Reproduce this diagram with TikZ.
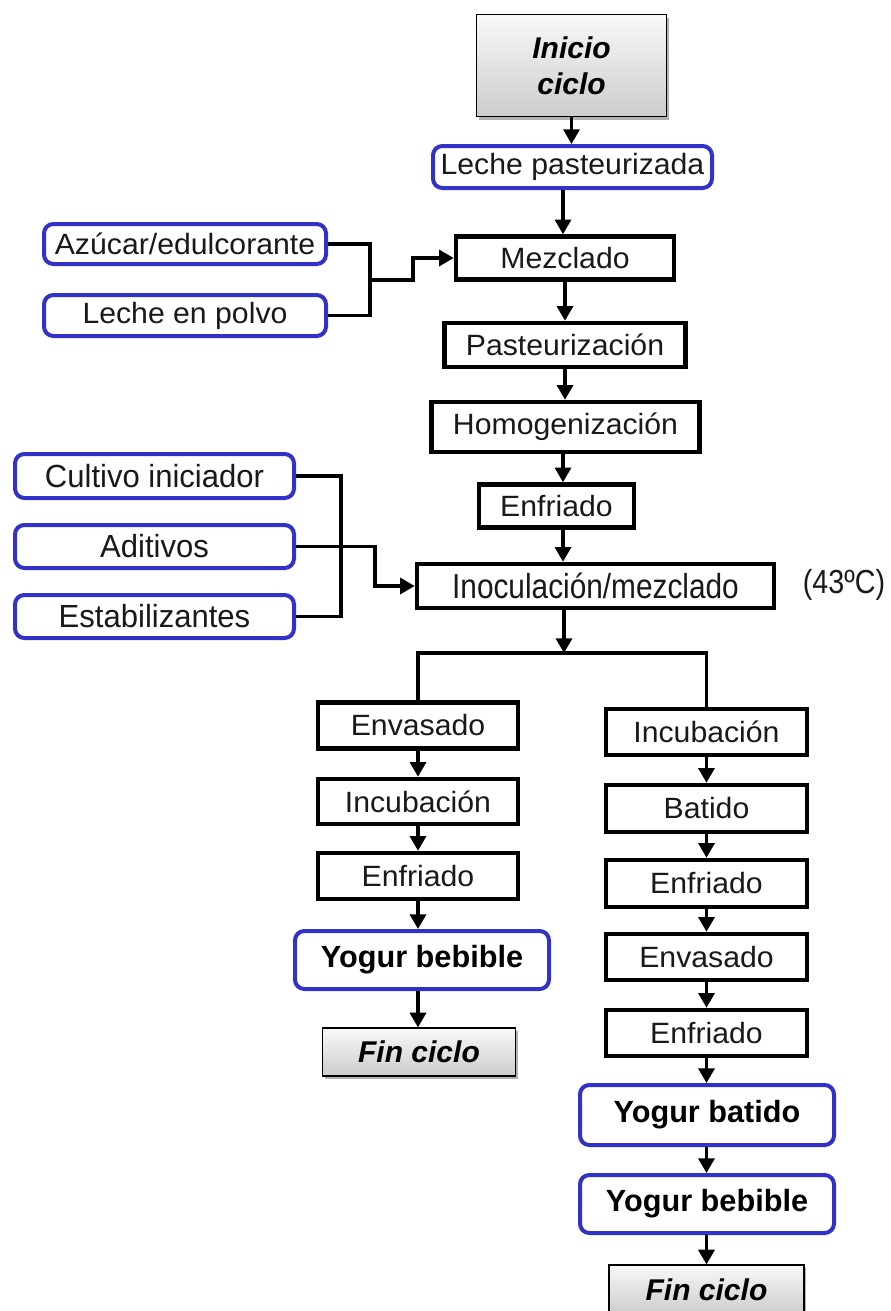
\documentclass[tikz,border=0pt]{standalone}
\usepackage{fontspec}
\setmainfont[FakeStretch=1.03]{Liberation Sans}
\newfontfamily\plainsans{Liberation Sans}
\newfontfamily\narrowsans[FakeStretch=0.97]{Liberation Sans}
\newfontfamily\tightsans[FakeStretch=0.86]{Liberation Sans}
\usetikzlibrary{arrows.meta,shadows}
\definecolor{frameblue}{RGB}{50,50,200}
\definecolor{inktext}{RGB}{25,25,25}

\tikzset{
  sz/.style 2 args={minimum width=#1*0.75pt, minimum height=#2*0.75pt},
  stepbox/.style={draw=black, line width=3.4pt, fill=white, inner sep=0pt,
    text=inktext, font=\fontsize{22}{26}\selectfont},
  inbox/.style={draw=frameblue, line width=3pt, rounded corners=7pt, fill=white,
    inner sep=0pt, text=inktext, font=\fontsize{22}{26}\selectfont},
  narrow/.style={font=\narrowsans\fontsize{24}{28}\selectfont},
  prodbox/.style={inbox, text=black, font=\plainsans\fontsize{23}{27}\selectfont\bfseries},
  termbox/.style={draw=black, line width=0.9pt, top color=gray!5, bottom color=gray!40,
    drop shadow={shadow xshift=1.5pt, shadow yshift=-2.5pt, opacity=0.3, fill=black},
    inner sep=0pt, align=center, text=black,
    font=\plainsans\fontsize{22.5}{27}\selectfont\bfseries\itshape},
  link/.style={line width=2.5pt, draw=black},
  arr/.style={link, -{Triangle[length=11pt,width=12pt]}},
}

\begin{document}
\begin{tikzpicture}[x=0.75pt, y=-0.75pt]
  \useasboundingbox (0,0) rectangle (891,1311);
  \fill[white] (0,0) rectangle (891,1311);
  \clip (0,0) rectangle (891,1311);

  % main line
  \node[termbox, sz={190}{102}] (ini) at (571.5,65.5) {Inicio\\ciclo};
  \node[inbox, sz={279}{42}] (lp) at (572.5,167) {Leche pasteurizada};
  \node[stepbox, sz={218}{43}] (mez) at (565,258) {Mezclado};
  \node[stepbox, sz={241}{44}] (pas) at (565,345) {Pasteurización};
  \node[stepbox, sz={268}{50}] (hom) at (565.5,427) {Homogenización};
  \node[stepbox, sz={155}{43}] (enf1) at (556.5,506) {Enfriado};
  \node[stepbox, font=\tightsans\fontsize{26}{30}\selectfont, sz={357}{44}] (ino) at (595.5,586) {Inoculación/mezclado};
  \node[text=inktext, inner sep=0pt, font=\tightsans\fontsize{25}{29}\selectfont] (temp) at (844,585) {(43ºC)};

  % ingredients entering the mixing step
  \node[inbox, sz={282}{40}] (az) at (185,244) {Azúcar/edulcorante};
  \node[inbox, sz={282}{41}] (lpo) at (185,315.5) {Leche en polvo};

  % ingredients entering the inoculation step
  \node[inbox, narrow, sz={279}{44}] (cul) at (154.5,476) {Cultivo iniciador};
  \node[inbox, narrow, sz={279}{43}] (adi) at (154.5,546.5) {Aditivos};
  \node[inbox, narrow, sz={279}{43}] (est) at (154.5,616.5) {Estabilizantes};

  % drinkable yogurt branch
  \node[stepbox, sz={200}{46}] (envL) at (418,725.5) {Envasado};
  \node[stepbox, sz={200}{45}] (incL) at (418,801.5) {Incubación};
  \node[stepbox, sz={200}{46}] (enfL) at (418,876) {Enfriado};
  \node[prodbox, sz={254}{58}] (ybL) at (422,960) {Yogur bebible};
  \node[termbox, sz={193}{48}] (finL) at (419,1052) {Fin ciclo};

  % stirred yogurt branch
  \node[stepbox, sz={201}{46}] (incR) at (706.5,732) {Incubación};
  \node[stepbox, sz={201}{47}] (batR) at (706.5,808.5) {Batido};
  \node[stepbox, sz={201}{47}] (enfR1) at (706.5,883.5) {Enfriado};
  \node[stepbox, sz={201}{46}] (envR) at (706.5,957) {Envasado};
  \node[stepbox, sz={201}{46}] (enfR2) at (706.5,1033) {Enfriado};
  \node[prodbox, sz={254}{60}] (ybatR) at (707,1115) {Yogur batido};
  \node[prodbox, sz={254}{58}] (ybebR) at (707,1204) {Yogur bebible};
  \node[termbox, sz={195}{49}] (finR) at (706.5,1289.5) {Fin ciclo};

  % helper points for the connectors
  \coordinate (col) at (563,0);
  \coordinate (lcol) at (418,0);
  \coordinate (rcol) at (706.5,0);
  \coordinate (j1) at (370,280);
  \coordinate (k1) at (413,280);
  \coordinate (j2) at (341,546.5);
  \coordinate (k2) at (375,546.5);
  \coordinate (br) at (564,653);

  % main line arrows
  \draw[arr] (ini.south) -- (ini.south |- lp.north);
  \draw[arr] (lp.south -| col) -- (mez.north -| col);
  \draw[arr] (mez.south) -- (mez.south |- pas.north);
  \draw[arr] (pas.south) -- (pas.south |- hom.north);
  \draw[arr] (hom.south -| col) -- (enf1.north -| col);
  \draw[arr] (enf1.south -| col) -- (ino.north -| col);

  % merging inputs
  \draw[link] (az.east) -| (j1) |- (lpo.east);
  \draw[arr] (j1) -- (k1) |- (mez.west);
  \draw[link] (cul.east) -| (j2) |- (est.east);
  \draw[arr] (adi.east) -- (k2) |- (ino.west);

  % split into two branches
  \draw[arr] (ino.south -| br) -- (br);
  \draw[link] (envL.north) |- (rcol |- br) -- (incR.north);

  % left branch arrows
  \draw[arr] (envL.south) -- (incL.north);
  \draw[arr] (incL.south) -- (enfL.north);
  \draw[arr] (enfL.south) -- (lcol |- ybL.north);
  \draw[arr] (lcol |- ybL.south) -- (lcol |- finL.north);

  % right branch arrows
  \draw[arr] (incR.south) -- (batR.north);
  \draw[arr] (batR.south) -- (enfR1.north);
  \draw[arr] (enfR1.south) -- (envR.north);
  \draw[arr] (envR.south) -- (enfR2.north);
  \draw[arr] (enfR2.south) -- (rcol |- ybatR.north);
  \draw[arr] (rcol |- ybatR.south) -- (rcol |- ybebR.north);
  \draw[arr] (rcol |- ybebR.south) -- (finR.north);
\end{tikzpicture}
\end{document}
